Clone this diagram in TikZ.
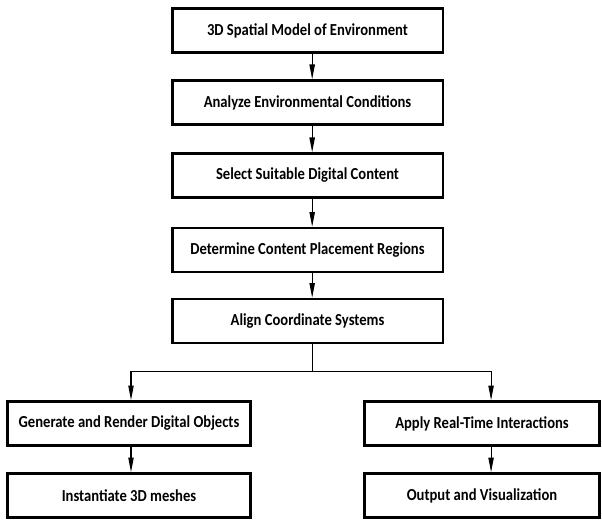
\documentclass[tikz,border=0pt]{standalone}
\usepackage{fontspec}
\setmainfont{Carlito}[FakeStretch=0.87]
\usetikzlibrary{arrows.meta,positioning}

\tikzset{
  stepbox/.style={draw, line width=2pt, minimum height=33pt, inner sep=0pt,
    font=\bfseries\fontsize{12.6}{14}\selectfont},
  flow/.style={line width=0.8pt, -{Triangle[length=11pt,width=4pt]}}
}

\begin{document}
\begin{tikzpicture}[x=0.75pt,y=-0.75pt]
\useasboundingbox (0,0) rectangle (602,520);

% main chain
\node[stepbox, minimum width=203pt] (model)   at (307.5,30.5)  {3D Spatial Model of Environment};
\node[stepbox, minimum width=203pt] (analyze) at (307.5,102.5) {Analyze Environmental Conditions};
\node[stepbox, minimum width=203pt] (select)  at (307.5,175.5) {Select Suitable Digital Content};
\node[stepbox, minimum width=203pt] (place)   at (307.5,250)   {Determine Content Placement Regions};
\node[stepbox, minimum width=203pt] (align)   at (307.5,321)   {Align Coordinate Systems};

% two branches
\node[stepbox, minimum width=182pt] (render)  at (129,423.5)   {Generate and Render Digital Objects};
\node[stepbox, minimum width=182pt] (mesh)    at (129,495.5)   {Instantiate 3D meshes};
\node[stepbox, minimum width=176pt] (interact) at (482,423.5) {Apply Real-Time Interactions};
\node[stepbox, minimum width=176pt] (output)  at (482,495.5) {Output and Visualization};

\draw[flow] ([xshift=3.5pt]model.south)   -- ([xshift=3.5pt]analyze.north);
\draw[flow] ([xshift=3.5pt]analyze.south) -- ([xshift=3.5pt]select.north);
\draw[flow] ([xshift=3.5pt]select.south)  -- ([xshift=3.5pt]place.north);
\draw[flow] ([xshift=3.5pt]place.south)   -- ([xshift=3.5pt]align.north);

\draw[line width=0.8pt] ([xshift=3.5pt]align.south) -- ++(0,27) coordinate (split);
\draw[flow] (split) -| ([xshift=1.5pt]render.north);
\draw[flow] (split) -| ([xshift=6.8pt]interact.north);

\draw[flow] ([xshift=1.5pt]render.south)   -- ([xshift=1.5pt]mesh.north);
\draw[flow] ([xshift=6.8pt]interact.south) -- ([xshift=6.8pt]output.north);

\end{tikzpicture}
\end{document}
